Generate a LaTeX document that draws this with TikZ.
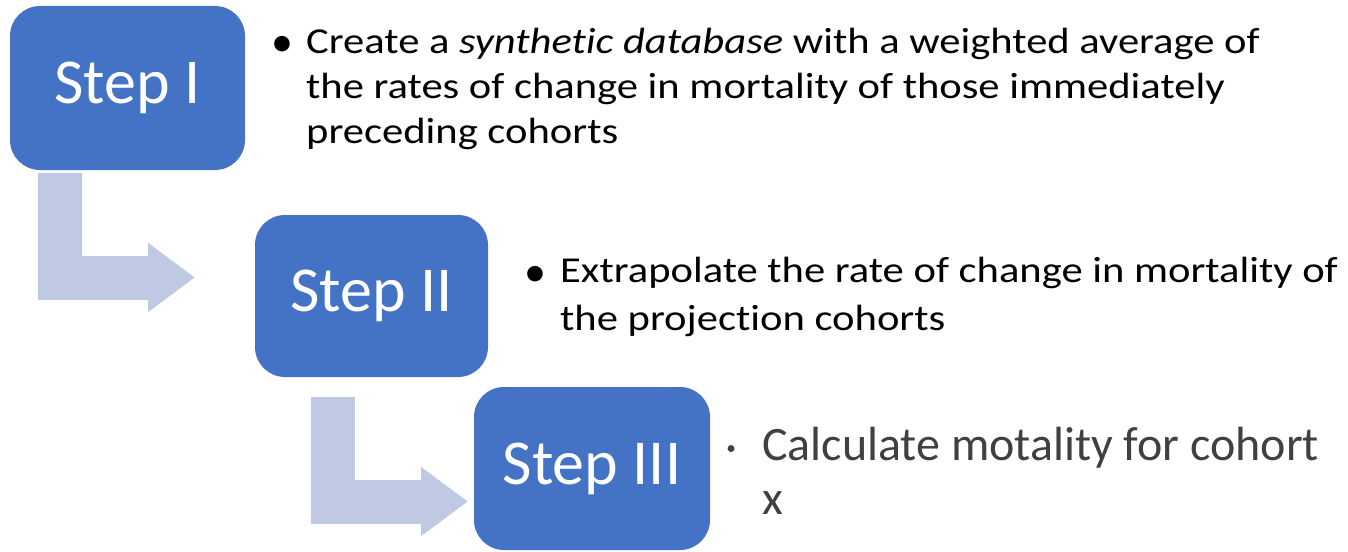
\documentclass[tikz,border=0pt]{standalone}
\usepackage{fontspec}
\setmainfont{Carlito}[Ligatures=NoCommon]
\newfontfamily\bodyfont{Carlito}[FakeStretch=1.167, Ligatures=NoCommon]
\usetikzlibrary{arrows.meta}
\definecolor{boxblue}{HTML}{4472C4}
\definecolor{arrowblue}{HTML}{BFC9E4}
\definecolor{txtgray}{HTML}{404040}
\begin{document}
\begin{tikzpicture}[x=1pt,y=-1pt,
  stepbox/.style={fill=boxblue, rounded corners=30pt, inner sep=0pt, text=white,
    font=\fontsize{64}{70}\selectfont},
  bentarrow/.style={draw=arrowblue, line width=44pt, line join=miter,
    -{Triangle[length=47pt,width=66pt]}},
  bodytext/.style={anchor=base west, inner sep=0pt, align=left,
    font=\bodyfont\fontsize{36.5}{45}\selectfont},
  bulletmark/.style={inner sep=0pt, font=\fontsize{44}{45}\selectfont}
]
\useasboundingbox (0,0) rectangle (1348,551);
\node[stepbox, minimum width=235pt, minimum height=164pt] (b1) at (127.5,88) {Step I};
\node[stepbox, minimum width=233pt, minimum height=162pt] (b2) at (371.5,296) {Step II};
\node[stepbox, minimum width=236pt, minimum height=163pt] (b3) at (592,468.5) {Step III};
\coordinate (a1s) at (60,173);
\coordinate (a1e) at (195,277.5);
\coordinate (a2s) at (332.5,397);
\coordinate (a2e) at (468,501.5);
\draw[bentarrow] (a1s) |- (a1e);
\draw[bentarrow] (a2s) |- (a2e);
\node[bulletmark] (u1) at (282,46) {•};
\node[bodytext] (t1) at (306,143) {Create a \textit{synthetic database} with a weighted average of\\the rates of change in mortality of those immediately\\preceding cohorts};
\node[bulletmark] (u2) at (535,276) {•};
\node[bodytext, font=\bodyfont\fontsize{36.5}{48}\selectfont] (t2) at (560,330) {Extrapolate the rate of change in mortality of\\the projection cohorts};
\node[bulletmark, text=txtgray, font=\fontsize{48}{52}\selectfont] (u3) at (732,454) {·};
\node[bodytext, text=txtgray, font=\fontsize{48}{54}\selectfont] (t3) at (762,514) {Calculate motality for cohort\\x};
\end{tikzpicture}
\end{document}
